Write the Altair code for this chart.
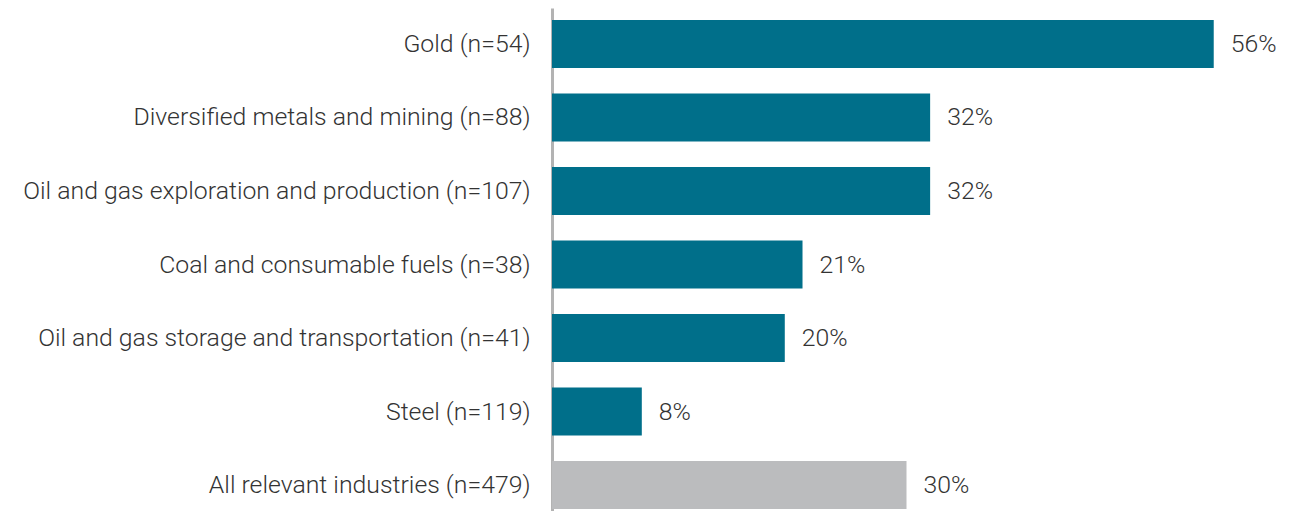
import altair as alt
import pandas as pd

categories = [
    "Gold (n=54)",
    "Diversified metals and mining (n=88)",
    "Oil and gas exploration and production (n=107)",
    "Coal and consumable fuels (n=38)",
    "Oil and gas storage and transportation (n=41)",
    "Steel (n=119)",
    "All relevant industries (n=479)",
]
values = [56.0, 32.0, 32.0, 21.2, 19.7, 7.6, 30.0]
labels = ["56%", "32%", "32%", "21%", "20%", "8%", "30%"]
groups = ["industry", "industry", "industry", "industry", "industry", "industry", "all"]

df = pd.DataFrame({
    "category": categories,
    "value": values,
    "group": groups,
    "label": labels,
})

FONT = "Roboto"
FS = 24.8

y_enc = alt.Y(
    "category:N",
    sort=categories,
    title=None,
    scale=alt.Scale(paddingInner=0.347, paddingOuter=0.163),
    axis=alt.Axis(
        labelFont=FONT,
        labelFontSize=FS,
        labelFontWeight=300,
        labelColor="#333333",
        labelPadding=22,
        labelOffset=1,
        ticks=False,
        domain=True,
        domainColor="#b3b3b3",
        domainWidth=3,
        labelLimit=600,
    ),
)
x_enc = alt.X("value:Q", scale=alt.Scale(domain=[0, 60]), axis=None)

bars = alt.Chart(df).mark_bar().encode(
    x=x_enc,
    y=y_enc,
    color=alt.Color(
        "group:N",
        scale=alt.Scale(domain=["industry", "all"], range=["#006f8a", "#bbbcbe"]),
        legend=None,
    ),
)

text = alt.Chart(df).mark_text(
    align="left", baseline="middle", dx=17, dy=1, font=FONT, fontSize=FS, fontWeight=300, color="#333333"
).encode(
    x=x_enc,
    y=alt.Y("category:N", sort=categories),
    text="label:N",
)

chart = (bars + text).properties(
    width=709,
    height=513,
    autosize=alt.AutoSizeParams(type="none"),
    padding={"left": 544, "top": 0, "right": 40, "bottom": 0},
).configure_view(stroke=None)

chart.save("out.html", embed_options={"renderer": "svg", "actions": False})
